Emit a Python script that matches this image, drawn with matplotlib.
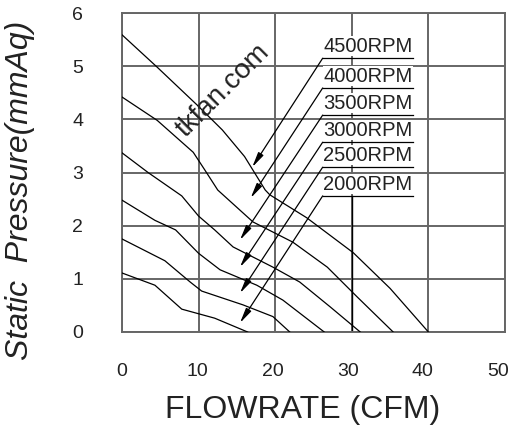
import matplotlib.pyplot as plt
from matplotlib.transforms import ScaledTranslation

plt.rcParams['font.family'] = ['Liberation Sans', 'DejaVu Sans']

# fan curves, flowrate (CFM) vs static pressure (mmAq)
rpm_labels = ["4500RPM", "4000RPM", "3500RPM", "3000RPM", "2500RPM", "2000RPM"]

x_4500 = [0, 4.6, 9.8, 13.1, 16.0, 18.7, 19.3, 24.1, 30.2, 35.0, 40.0]
y_4500 = [5.59, 4.98, 4.27, 3.80, 3.30, 2.67, 2.58, 2.15, 1.49, 0.82, 0.0]

x_4000 = [0, 4.6, 9.3, 10.8, 12.5, 17.1, 22.3, 26.8, 30.7, 35.4]
y_4000 = [4.42, 3.98, 3.38, 3.05, 2.67, 2.07, 1.69, 1.22, 0.66, 0.0]

x_3500 = [0, 3.4, 7.8, 10.0, 12.1, 14.5, 19.7, 23.2, 27.2, 31.1]
y_3500 = [3.37, 3.00, 2.56, 2.18, 1.92, 1.60, 1.22, 0.94, 0.47, 0.0]

x_3000 = [0, 4.3, 7.0, 10.0, 12.8, 17.6, 21.0, 26.4]
y_3000 = [2.48, 2.10, 1.92, 1.48, 1.17, 0.88, 0.60, 0.0]

x_2500 = [0, 5.6, 8.9, 10.4, 15.8, 19.7, 21.9]
y_2500 = [1.75, 1.34, 0.94, 0.77, 0.51, 0.29, 0.0]

x_2000 = [0, 4.3, 7.8, 12.1, 16.4]
y_2000 = [1.11, 0.88, 0.43, 0.26, 0.0]

curves = [(x_4500, y_4500), (x_4000, y_4000), (x_3500, y_3500),
          (x_3000, y_3000), (x_2500, y_2500), (x_2000, y_2000)]

x_ticks = [0, 10, 20, 30, 40, 50]
y_ticks = [0, 1, 2, 3, 4, 5, 6]

# label layout: underline height and arrow tip for each speed
label_line_y = [5.15, 4.59, 4.08, 3.57, 3.10, 2.56]
arrow_tips = [(17.0, 3.10), (16.8, 2.52), (15.4, 1.73),
              (15.4, 1.22), (15.4, 0.73), (15.4, 0.17)]
label_x0, label_x1 = 26.2, 38.0

fig = plt.figure(figsize=(5.1, 4.3), dpi=100)
ax = fig.add_axes([122 / 510, 1 - 332 / 430, 383 / 510, 319 / 430])
ax.set_xlim(0, 50)
ax.set_ylim(0, 6)

gc = "#666666"
for xv in x_ticks:
    ax.axvline(xv, color=gc, lw=1.4, zorder=1)
for yv in y_ticks:
    ax.axhline(yv, color=gc, lw=1.4, zorder=1)
for s in ax.spines.values():
    s.set_color(gc)
    s.set_linewidth(1.4)
# darker stretch of the 30 CFM line below the labels
ax.plot([30, 30], [0, label_line_y[-1]], color="black", lw=1.0, zorder=2)

for xs, ys in curves:
    ax.plot(xs, ys, color="black", lw=0.9, zorder=3)

for lab, ly, tip in zip(rpm_labels, label_line_y, arrow_tips):
    ax.plot([label_x0, label_x1], [ly, ly], color="black", lw=0.9, zorder=5)
    ax.text(label_x0 + 0.1, ly + 0.12, lab, fontsize=14.5, color="#222222",
            va="baseline", ha="left", zorder=4,
            bbox=dict(facecolor="white", edgecolor="none", pad=0.5))
    ax.annotate("", xy=tip, xytext=(label_x0, ly),
                arrowprops=dict(arrowstyle="-|>,head_length=0.9,head_width=0.18",
                                color="black", lw=0.9, shrinkA=0, shrinkB=0),
                zorder=5)

ax.text(13.2, 4.55, "tkfan.com", rotation=45, fontsize=20, color="#222222",
        ha="center", va="center", zorder=6)

ax.set_xticks(x_ticks)
ax.set_yticks(y_ticks)
ax.tick_params(length=0, labelsize=14, labelcolor="#222222")
ax.tick_params(axis="x", pad=22)
ax.tick_params(axis="y", pad=28)
# tick labels in the reference drift a little left of their grid lines
for i, lbl in enumerate(ax.get_xticklabels()):
    dx = -7.0 * i / (len(x_ticks) - 1) / 100
    lbl.set_transform(lbl.get_transform() + ScaledTranslation(dx, 0, fig.dpi_scale_trans))

fig.text(303 / 510, 1 - 410 / 430, "FLOWRATE (CFM)", fontsize=23,
         ha="center", va="center", color="#222222")
fig.text(20 / 510, 1 - 190 / 430, "Static  Pressure(mmAq)", fontsize=23,
         style="italic", rotation=90, ha="center", va="center", color="#222222")

fig.savefig("out.png", dpi=100)
